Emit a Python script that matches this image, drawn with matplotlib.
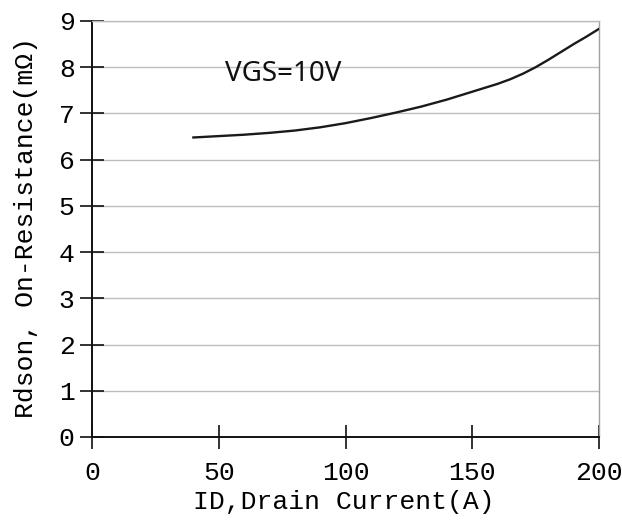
import numpy as np
import matplotlib.pyplot as plt

# drain current (A) and on-resistance (mOhm)
id_current = [40, 50, 60, 70, 80, 90, 100, 110, 120, 130, 140, 150, 160, 165, 170, 175, 180, 185, 190, 195, 200]
rdson = [6.48, 6.51, 6.54, 6.58, 6.63, 6.70, 6.79, 6.90, 7.02, 7.15, 7.30, 7.47, 7.64, 7.74, 7.86, 8.00, 8.16, 8.33, 8.50, 8.66, 8.83]

x_ticks = [0, 50, 100, 150, 200]
y_ticks = [0, 1, 2, 3, 4, 5, 6, 7, 8, 9]

fig = plt.figure(figsize=(6.22, 5.21), dpi=100)
ax = fig.add_axes([92/622, 1 - 437/521, (599-92)/622, (437-21)/521])

mono = 'Liberation Mono'

for y in y_ticks[1:]:
    ax.axhline(y, color='#bdbdbd', lw=1.0, zorder=1)

ax.plot(id_current, rdson, color='#1a1a1a', lw=1.7, zorder=3)

ax.set_xlim(0, 200)
ax.set_ylim(0, 9)
ax.set_xticks(x_ticks)
ax.set_yticks(y_ticks)
ax.set_xticklabels([str(v) for v in x_ticks], fontfamily=mono, fontsize=19)
ax.set_yticklabels([str(v) for v in y_ticks], fontfamily=mono, fontsize=19)
ax.tick_params(direction='inout', length=17, width=1.2, color='#111111')
ax.tick_params(axis='x', pad=9)
ax.tick_params(axis='y', pad=4)

ax.spines['left'].set_color('#111111')
ax.spines['bottom'].set_color('#111111')
ax.spines['left'].set_linewidth(1.4)
ax.spines['bottom'].set_linewidth(1.4)
ax.spines['right'].set_color('#a0a0a0')
ax.spines['top'].set_color('#bdbdbd')
ax.spines['right'].set_linewidth(1.0)
ax.spines['top'].set_linewidth(1.0)

ax.set_xlabel('ID,Drain Current(A)', fontfamily=mono, fontsize=19)
ax.set_ylabel('Rdson, On-Resistance(m\u03a9)', fontfamily=mono, fontsize=19)
ax.xaxis.set_label_coords((344-92)/507, (437-490)/416)
ax.yaxis.set_label_coords((38-92)/507, (437-228)/416)

ax.text(52.5, 7.86, 'VGS=10V', fontfamily='Noto Sans', fontsize=20, va='center', ha='left', color='#111111')

fig.savefig('out.png', dpi=100)
